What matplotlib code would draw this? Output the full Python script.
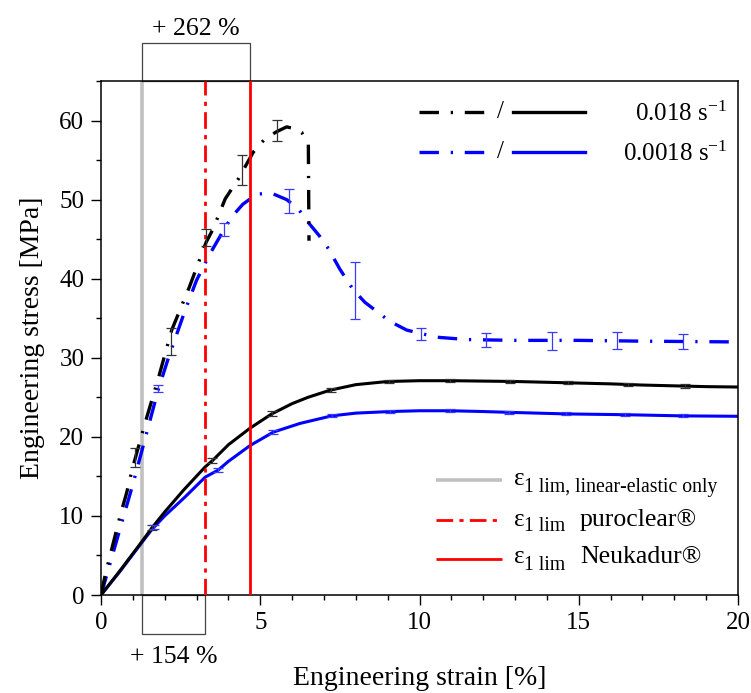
import matplotlib
matplotlib.use('Agg')
import matplotlib.pyplot as plt
from matplotlib.ticker import MultipleLocator
from matplotlib.patches import Rectangle

plt.rcParams['font.family'] = ['Liberation Serif', 'DejaVu Serif']
plt.rcParams['mathtext.fontset'] = 'custom'
plt.rcParams['mathtext.rm'] = 'Liberation Serif'
plt.rcParams['mathtext.it'] = 'Liberation Serif:italic'
plt.rcParams['lines.scale_dashes'] = False

# ---------------- data ----------------
# 0.018 1/s, dash-dot (upper) curve
fast_dd_x = [0, 0.13, 0.23, 0.6, 0.81, 0.98, 1.38, 1.8, 2.22, 2.77, 3.3, 3.52, 3.9, 4.31, 4.78,
             5.15, 5.52, 5.83, 6.14, 6.3, 6.51, 6.53]
fast_dd_y = [0, 2.5, 4.1, 10.0, 13.0, 15.9, 21.7, 27.4, 33.5, 38.9, 44.6, 46.3, 50.1, 52.6, 56.0,
             57.7, 58.6, 59.2, 58.9, 58.5, 57.0, 44.8]
fast_dd_err_x = [1.07, 2.2, 3.3, 4.42, 5.52]
fast_dd_err_y = [17.4, 32.1, 45.2, 53.8, 58.75]
fast_dd_err = [1.2, 1.7, 1.1, 1.9, 1.35]

# 0.0018 1/s, dash-dot (upper) curve
slow_dd_x = [0, 0.5, 1.0, 1.4, 1.8, 2.11, 2.64, 3.0, 3.4, 3.86, 4.1, 4.45, 4.89, 5.36, 5.83, 6.2,
             6.51, 6.86, 7.14, 7.5, 7.92, 8.29, 9.07, 9.6, 10.54, 11.5, 13, 15, 17, 20]
slow_dd_y = [0, 7.0, 14.0, 20.0, 26.0, 29.9, 36.0, 39.8, 43.0, 46.2, 47.8, 49.4, 50.7, 50.8, 50.0, 48.8,
             47.1, 45.4, 43.8, 41.2, 38.6, 37.0, 34.6, 33.5, 32.6, 32.3, 32.2, 32.2, 32.1, 32.0]
slow_dd_err_x = [1.8, 3.86, 5.9, 7.97, 10.04, 12.09, 14.15, 16.21, 18.26]
slow_dd_err_y = [26.1, 46.2, 49.8, 38.5, 33.0, 32.2, 32.1, 32.2, 32.05]
slow_dd_err = [0.4, 0.8, 1.5, 3.6, 0.8, 0.9, 1.1, 1.1, 0.95]

# 0.018 1/s, solid (lower) curve
fast_s_x = [0, 0.6, 1.2, 1.6, 2.0, 2.6, 3.27, 3.5, 4.0, 4.68, 5.36, 6.0, 6.5, 7.19, 8.0, 9.0, 10, 11,
            12, 13, 14, 15, 16, 17, 18, 19, 20]
fast_s_y = [0, 3.1, 6.3, 8.5, 10.5, 13.3, 16.2, 17.0, 19.0, 21.1, 22.9, 24.2, 25.0, 25.9, 26.6, 27.0,
            27.1, 27.1, 27.05, 27.0, 26.9, 26.8, 26.7, 26.55, 26.45, 26.35, 26.3]
fast_s_err_x = [1.6, 3.5, 5.38, 7.22, 9.05, 10.95, 12.85, 14.65, 16.55, 18.35]
fast_s_err_y = [8.5, 17.0, 22.95, 25.95, 27.0, 27.1, 27.0, 26.85, 26.6, 26.45]
fast_s_err = [0.3, 0.3, 0.3, 0.25, 0.25, 0.2, 0.2, 0.2, 0.2, 0.25]

# 0.0018 1/s, solid (lower) curve
slow_s_x = [0, 0.6, 1.2, 1.6, 2.0, 2.64, 3.27, 3.68, 4.0, 4.68, 5.41, 6.25, 7.24, 8.0, 9.07, 10,
            10.96, 12, 12.8, 14.6, 16.45, 18.27, 20]
slow_s_y = [0, 3.0, 6.2, 8.3, 10.0, 12.4, 14.9, 15.8, 16.9, 18.9, 20.6, 21.7, 22.65, 23.0, 23.2, 23.3,
            23.3, 23.2, 23.1, 22.9, 22.8, 22.65, 22.6]
slow_s_err_x = [1.65, 3.68, 5.41, 7.24, 9.07, 10.96, 12.8, 14.6, 16.45, 18.27]
slow_s_err_y = [8.6, 15.8, 20.6, 22.65, 23.2, 23.3, 23.1, 22.9, 22.8, 22.65]
slow_s_err = [0.25, 0.25, 0.25, 0.2, 0.2, 0.2, 0.2, 0.2, 0.2, 0.2]

# strain limits [%]
eps_lin = 1.29
eps_puro = 3.27
eps_neu = 4.68

rate_labels = ['0.018 s$^{-1}$', '0.0018 s$^{-1}$']
limit_subs = ['1 lim, linear‐elastic only', '1 lim', '1 lim']
limit_names = ['', 'puroclear®', 'Neukadur®']
gain_upper = '+ 262 %'
gain_lower = '+ 154 %'

# ---------------- plot ----------------
W, H = 751, 693
fig = plt.figure(figsize=(W / 100, H / 100), dpi=100)
ax = fig.add_axes([101 / W, (H - 595) / H, (738 - 101) / W, (595 - 81) / H])

DD = (0, (14.0, 8.5, 1.6, 8.5))
RED_DD = (0, (12.0, 4.5, 3.0, 4.5))

ax.axvline(eps_lin, color='#c0c0c0', lw=2.6, zorder=1)
ax.axvline(eps_puro, color='#ff0000', lw=2.0, linestyle=RED_DD, zorder=4)
ax.axvline(eps_neu, color='#ff0000', lw=2.0, zorder=4)

ax.plot(fast_dd_x, fast_dd_y, color='black', lw=2.4, linestyle=DD, zorder=3)
ax.plot(slow_dd_x, slow_dd_y, color='#0000ff', lw=2.4, linestyle=DD, zorder=2)
ax.plot(fast_s_x, fast_s_y, color='black', lw=2.2, zorder=3)
ax.plot(slow_s_x, slow_s_y, color='#0000ff', lw=2.2, zorder=2)

ekw = dict(fmt='none', elinewidth=0.9, capsize=3.8, capthick=0.9, zorder=5)
ax.errorbar(fast_dd_err_x, fast_dd_err_y, yerr=fast_dd_err, ecolor='#333333', **ekw)
ax.errorbar(slow_dd_err_x, slow_dd_err_y, yerr=slow_dd_err, ecolor='#3a3aff', **ekw)
ax.errorbar(fast_s_err_x, fast_s_err_y, yerr=fast_s_err, ecolor='#333333', **ekw)
ax.errorbar(slow_s_err_x, slow_s_err_y, yerr=slow_s_err, ecolor='#3a3aff', **ekw)

ax.set_xlim(0, 20)
ax.set_ylim(0, 65)
ax.xaxis.set_major_locator(MultipleLocator(5))
ax.xaxis.set_minor_locator(MultipleLocator(1))
ax.yaxis.set_major_locator(MultipleLocator(10))
ax.yaxis.set_minor_locator(MultipleLocator(5))
ax.tick_params(which='both', direction='out', width=1.0, labelsize=18, colors='black')
ax.tick_params(which='major', length=7)
ax.tick_params(which='minor', length=3.5)
ax.tick_params(axis='y', which='major', pad=5)
ax.tick_params(axis='x', which='major', pad=5)
for s in ax.spines.values():
    s.set_linewidth(1.1)

ax.set_xlabel('Engineering strain [%]', fontsize=20)
ax.set_ylabel('Engineering stress [MPa]', fontsize=20)
ax.xaxis.set_label_coords(0.5, -0.138)
ax.yaxis.set_label_coords(-0.088, 0.5)
ax.xaxis.label.set_va('top')

# bracket annotations
ax.add_patch(Rectangle((eps_lin, 65), eps_neu - eps_lin, 4.8, fill=False, ec='#444444', lw=0.9,
                       clip_on=False))
ax.text((eps_lin + eps_neu) / 2, 70.8, gain_upper, ha='center', va='baseline', fontsize=18.5)
ax.add_patch(Rectangle((eps_lin, -4.9), eps_puro - eps_lin, 4.9, fill=False, ec='#444444', lw=0.9,
                       clip_on=False))
ax.text((eps_lin + eps_puro) / 2, -8.6, gain_lower, ha='center', va='baseline', fontsize=18.5)

# legend 1 (rates)
T = ax.transAxes
for yy, col, lab in [(0.940, 'black', rate_labels[0]), (0.862, '#0000ff', rate_labels[1])]:
    ax.plot([0.499, 0.607], [yy, yy], color=col, lw=2.4, linestyle=DD, transform=T)
    ax.text(0.627, yy, '/', ha='center', va='center', fontsize=18, transform=T)
    ax.plot([0.647, 0.760], [yy, yy], color=col, lw=2.4, transform=T)
    ax.text(0.983, yy - 0.004, lab, ha='right', va='center', fontsize=18, transform=T)

# legend 2 (limits)
leg2 = [(0.2237, 0.2140, 0.2010, '#c0c0c0', '-', 2.6),
        (0.1459, 0.1348, 0.1245, '#ff0000', RED_DD, 2.0),
        (0.0700, 0.0617, 0.0486, '#ff0000', '-', 2.0)]
for (yl, yb, ys, col, ls, lw), sub, name in zip(leg2, limit_subs, limit_names):
    ax.plot([0.526, 0.630], [yl, yl], color=col, lw=lw, linestyle=ls, transform=T,
            solid_capstyle='butt')
    ax.text(0.649, yb, 'ε', ha='left', va='baseline', fontsize=18, transform=T)
    ax.text(0.664, ys, sub, ha='left', va='baseline', fontsize=14.2, transform=T)
    if name:
        ax.text(0.752, yb, name, ha='left', va='baseline', fontsize=18.5, transform=T)

fig.savefig('out.png', dpi=100)
